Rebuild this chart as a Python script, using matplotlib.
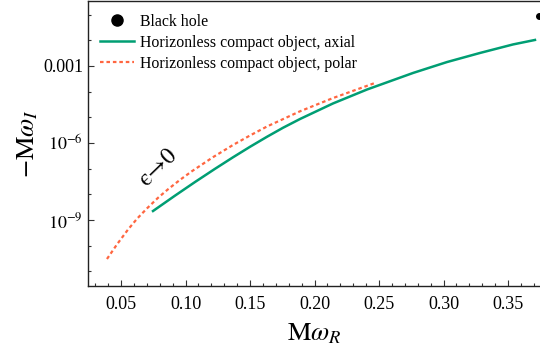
import numpy as np
import matplotlib.pyplot as plt
from matplotlib.ticker import FixedLocator, MultipleLocator, FixedFormatter

plt.rcParams['font.family'] = ['Liberation Serif', 'DejaVu Serif']
plt.rcParams['mathtext.fontset'] = 'stix'

# Black hole mode
bh_wr = [0.3737]
bh_wi = [0.0890]

# Horizonless compact object, axial
axial_wr = [0.0748, 0.0919, 0.1074, 0.1229, 0.1368, 0.1500, 0.1632, 0.1756,
            0.1888, 0.2143, 0.2407, 0.2764, 0.3027, 0.3283, 0.3539, 0.3709]
axial_wi = [2.24e-9, 8.93e-9, 3.03e-8, 9.89e-8, 2.77e-7, 7.11e-7, 1.75e-6,
            3.92e-6, 8.61e-6, 3.46e-5, 1.21e-4, 5.34e-4, 1.42e-3, 3.21e-3,
            6.89e-3, 1.03e-2]

# Horizonless compact object, polar
polar_wr = [0.0391, 0.0469, 0.0554, 0.0624, 0.0702, 0.0787, 0.0864, 0.0957,
            0.1050, 0.1213, 0.1368, 0.1500, 0.1632, 0.1888, 0.2143, 0.2469]
polar_wi = [3.03e-11, 1.13e-10, 4.24e-10, 1.12e-9, 2.86e-9, 7.34e-9, 1.57e-8,
            3.66e-8, 7.98e-8, 2.80e-7, 8.36e-7, 1.96e-6, 4.40e-6, 1.72e-5,
            5.62e-5, 2.18e-4]

fig = plt.figure(figsize=(5.4, 3.52), dpi=100)
ax = fig.add_axes([88 / 540, 1 - 286 / 352, 1 - 88 / 540, 285 / 352])

ax.plot(bh_wr, bh_wi, 'o', color='black', markersize=4, label='Black hole',
        clip_on=False, zorder=5)
ax.plot(axial_wr, axial_wi, '-', color='#009E73', lw=1.8,
        label='Horizonless compact object, axial')
ax.plot(polar_wr, polar_wi, color='#FF6640', lw=1.6, dashes=(1.6, 1.3),
        label='Horizonless compact object, polar')

ax.set_yscale('log')
ax.set_xlim(0.0244, 0.3748)
ax.set_ylim(10 ** -11.57, 10 ** -0.47)

ax.xaxis.set_major_locator(MultipleLocator(0.05))
ax.xaxis.set_minor_locator(MultipleLocator(0.01))
ax.xaxis.set_major_formatter(plt.FuncFormatter(lambda v, p: f'{v:.2f}'))
ax.yaxis.set_major_locator(FixedLocator([1e-9, 1e-6, 1e-3]))
ax.yaxis.set_major_formatter(FixedFormatter([r'$10^{-9}$', r'$10^{-6}$', '0.001']))
ax.yaxis.set_minor_locator(FixedLocator([10.0 ** k for k in range(-11, 0)]))
ax.yaxis.set_minor_formatter(plt.NullFormatter())

ax.tick_params(which='both', direction='in', top=False, right=False,
               labelsize=13, width=0.8, color='#333333')
ax.tick_params(which='major', length=4.5)
ax.tick_params(which='minor', length=2.5)
ax.tick_params(axis='x', pad=7)

ax.spines['right'].set_visible(False)
for s in ['left', 'bottom', 'top']:
    ax.spines[s].set_linewidth(1.0)
    ax.spines[s].set_color('#222222')

ax.set_xlabel(r'$\mathrm{M}\omega_R$', fontsize=19, labelpad=6)
ax.set_ylabel(r'$-\mathrm{M}\omega_I$', fontsize=19, labelpad=2)

ax.text(0.0787, 1.1e-7, '\u03f5\u21920', family=['STIXGeneral', 'DejaVu Serif'],
        fontsize=17, rotation=44, ha='center', va='center')

leg = ax.legend(loc='upper left', bbox_to_anchor=(-0.006, 1.006), frameon=False,
                fontsize=11.4, handlelength=2.2, handletextpad=0.35,
                labelspacing=0.32, markerscale=2.0)

fig.savefig('out.png', dpi=100)
